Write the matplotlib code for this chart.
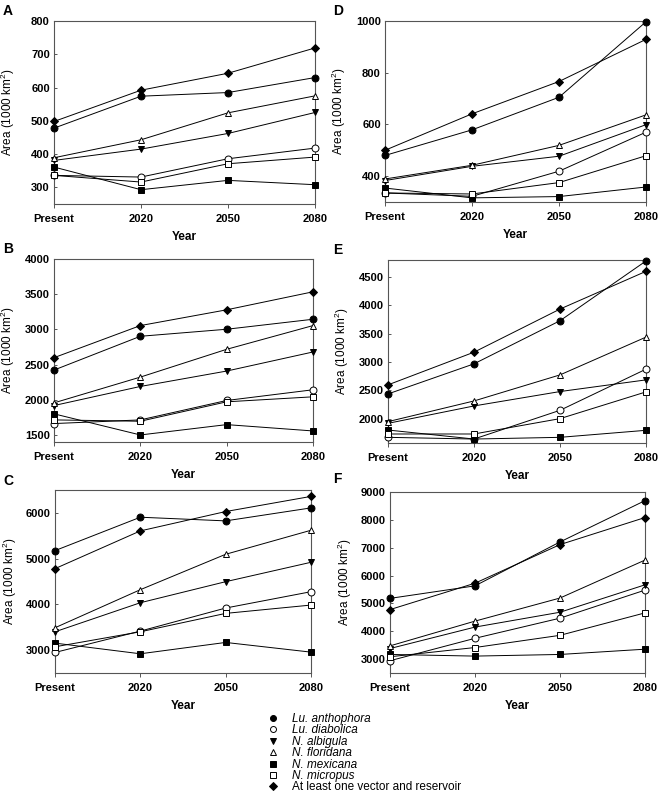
# plot.py
# area projections for vectors and reservoirs, six panels

# IMPORTS
import matplotlib
matplotlib.use('Agg')
import matplotlib.pyplot as plt
from matplotlib.lines import Line2D

# PLOT CONFIG
plt.rcParams['font.family'] = ['Liberation Sans', 'DejaVu Sans']
plt.rcParams['mathtext.default'] = 'regular'

# DATA
YEARS = ['Present', '2020', '2050', '2080']
SPECIES = ['Lu. anthophora', 'Lu. diabolica', 'N. albigula', 'N. floridana',
           'N. mexicana', 'N. micropus', 'At least one vector and reservoir']

# panel A
a_anth = [478, 574, 585, 630]
a_diab = [336, 331, 386, 418]
a_albi = [381, 415, 462, 525]
a_flor = [389, 443, 524, 575]
a_mexi = [361, 293, 321, 308]
a_micr = [336, 316, 371, 391]
a_least = [498, 592, 643, 719]

# panel B
b_anth = [2422, 2902, 3002, 3144]
b_diab = [1662, 1714, 1990, 2142]
b_albi = [1918, 2189, 2408, 2679]
b_flor = [1956, 2322, 2717, 3054]
b_mexi = [1800, 1500, 1647, 1557]
b_micr = [1714, 1695, 1971, 2042]
b_least = [2598, 3054, 3278, 3534]

# panel C
c_anth = [5175, 5905, 5825, 6109]
c_diab = [2949, 3416, 3920, 4277]
c_albi = [3401, 4036, 4496, 4920]
c_flor = [3489, 4321, 5095, 5620]
c_mexi = [3153, 2920, 3168, 2956]
c_micr = [3073, 3401, 3803, 3985]
c_least = [4781, 5606, 6029, 6360]

# panel D
d_anth = [480, 579, 705, 997]
d_diab = [335, 322, 419, 570]
d_albi = [383, 438, 477, 599]
d_flor = [389, 442, 519, 637]
d_mexi = [354, 316, 321, 358]
d_micr = [335, 331, 375, 479]
d_least = [500, 641, 766, 929]

# panel E
e_anth = [2436, 2967, 3728, 4783]
e_diab = [1670, 1640, 2147, 2873]
e_albi = [1917, 2224, 2478, 2684]
e_flor = [1947, 2312, 2772, 3439]
e_mexi = [1799, 1640, 1670, 1794]
e_micr = [1729, 1729, 2000, 2472]
e_least = [2596, 3173, 3934, 4600]

# panel F
f_anth = [5180, 5630, 7206, 8690]
f_diab = [2941, 3746, 4469, 5476]
f_albi = [3379, 4149, 4682, 5666]
f_flor = [3474, 4363, 5192, 6555]
f_mexi = [3166, 3107, 3166, 3355]
f_micr = [3083, 3415, 3853, 4659]
f_least = [4777, 5725, 7111, 8083]

# marker, face colour, size for each series
STYLES = [('o', 'black', 5.0), ('o', 'white', 5.0), ('v', 'black', 5.0),
          ('^', 'white', 5.0), ('s', 'black', 4.6), ('s', 'white', 4.6),
          ('D', 'black', 4.3)]

# panel letter, axes rect (px: left, top, right, bottom), ylim, yticks, series
PANELS = [
    ('A', (54, 21, 315, 204), (250, 800), range(300, 801, 100),
     [a_anth, a_diab, a_albi, a_flor, a_mexi, a_micr, a_least]),
    ('B', (54, 259, 313, 442), (1400, 4000), range(1500, 4001, 500),
     [b_anth, b_diab, b_albi, b_flor, b_mexi, b_micr, b_least]),
    ('C', (55, 490, 311, 673), (2500, 6500), range(3000, 6001, 1000),
     [c_anth, c_diab, c_albi, c_flor, c_mexi, c_micr, c_least]),
    ('D', (385, 21, 646, 202), (300, 1000), range(400, 1001, 200),
     [d_anth, d_diab, d_albi, d_flor, d_mexi, d_micr, d_least]),
    ('E', (388, 260, 646, 443), (1570, 4800), range(2000, 4501, 500),
     [e_anth, e_diab, e_albi, e_flor, e_mexi, e_micr, e_least]),
    ('F', (390, 492, 645, 673), (2500, 9000), range(3000, 9001, 1000),
     [f_anth, f_diab, f_albi, f_flor, f_mexi, f_micr, f_least]),
]

LETTER_POS = {'A': (3, 4), 'B': (3, 242), 'C': (3, 474),
              'D': (333, 4), 'E': (333, 243), 'F': (333, 472)}

W, H = 661, 809
fig = plt.figure(figsize=(W / 100, H / 100), dpi=100)

# DRAW PANELS
for letter, (x0, y0, x1, y1), ylim, yticks, series in PANELS:
    ax = fig.add_axes([x0 / W, 1 - y1 / H, (x1 - x0) / W, (y1 - y0) / H])
    xs = list(range(len(YEARS)))
    for values, (mk, fc, ms) in zip(series, STYLES):
        ax.plot(xs, values, color='black', lw=0.7, marker=mk, ms=ms,
                mfc=fc, mec='black', mew=0.7, clip_on=False, zorder=3)
    ax.set_xlim(0, 3)
    ax.set_ylim(*ylim)
    ax.set_xticks(xs)
    ax.set_xticklabels(YEARS)
    ax.set_yticks(list(yticks))
    for lab in ax.get_xticklabels() + ax.get_yticklabels():
        lab.set_fontweight('bold')
        lab.set_fontsize(8)
    ax.tick_params(axis='x', direction='out', length=3, width=0.7, pad=4,
                   color='#555555')
    ax.tick_params(axis='y', direction='in', length=2, width=0.7, pad=3,
                   color='#555555')
    for sp in ax.spines.values():
        sp.set_linewidth(0.8)
        sp.set_color('#555555')
    ax.set_xlabel('Year', fontsize=8.5, fontweight='bold')
    ax.xaxis.set_label_coords(0.5, -0.15)
    ax.set_ylabel('Area (1000 km$^2$)', fontsize=8.5)
    ax.yaxis.set_label_coords(-0.142, 0.5)
    lx, ly = LETTER_POS[letter]
    fig.text(lx / W, 1 - ly / H, letter, fontsize=10, fontweight='bold',
             va='top', ha='left')

# LEGEND
handles = [Line2D([], [], ls='none', marker=mk, mfc=fc, mec='black',
                  mew=0.7, ms=4.3) for mk, fc, ms in STYLES]
leg = fig.legend(handles, SPECIES, loc='upper left',
                 bbox_to_anchor=(267 / W, 1 - 713 / H), frameon=False,
                 fontsize=8.5, handlelength=1.0, handletextpad=1.1,
                 labelspacing=-0.05, borderpad=0, borderaxespad=0)
for i, txt in enumerate(leg.get_texts()):
    if i < 6:
        txt.set_fontstyle('italic')

## SAVE FIGURE
fig.savefig('out.png', dpi=100)
